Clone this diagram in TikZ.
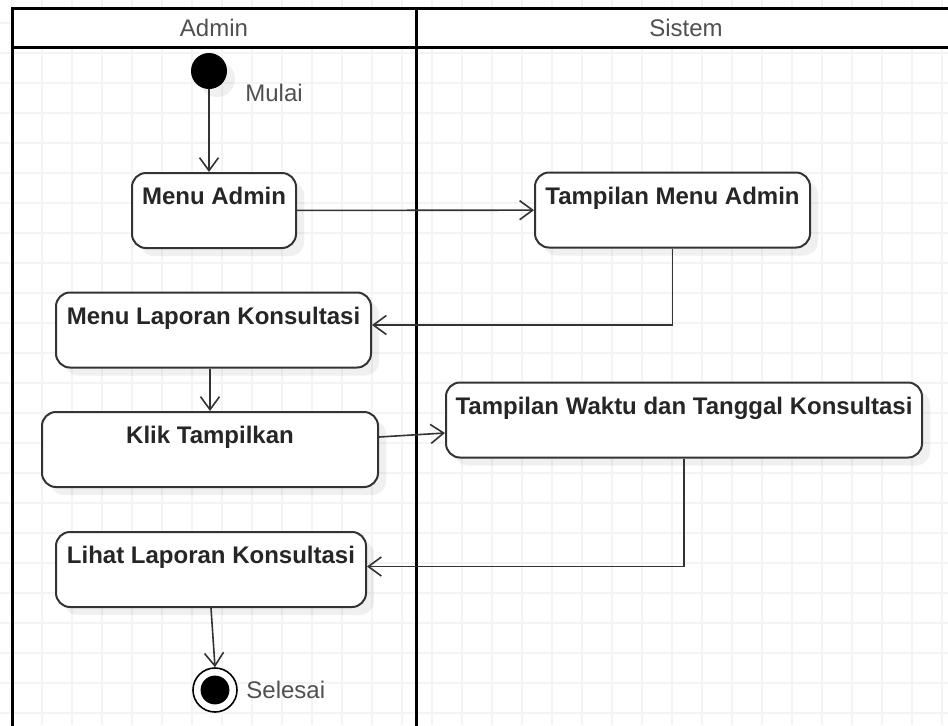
\documentclass[tikz,border=0pt]{standalone}
\usepackage{fontspec}
\setmainfont{Liberation Sans}
\usetikzlibrary{arrows.meta,shadows}

\definecolor{gridgray}{HTML}{F4F4F4}
\definecolor{edgegray}{HTML}{333333}
\definecolor{labelgray}{HTML}{505050}

\tikzset{
  action/.style={draw=edgegray, line width=1pt, fill=white, rounded corners=7pt,
    inner xsep=0pt, inner ysep=0pt, text height=15.8pt, text depth=21.7pt,
    font=\fontsize{12}{14}\selectfont\bfseries, text=black!85,
    drop shadow={shadow xshift=4pt, shadow yshift=-4pt, fill=black, opacity=0.06}},
  initial/.style={circle, fill=black, minimum size=18pt, inner sep=0pt,
    drop shadow={shadow xshift=4pt, shadow yshift=-4pt, fill=black, opacity=0.06}},
  final/.style={circle, draw=black, line width=0.8pt, fill=white, minimum size=22pt, inner sep=0pt,
    path picture={\fill[black] (path picture bounding box.center) circle (7.2pt);}},
  flow/.style={draw=edgegray, line width=0.8pt, -{Straight Barb[length=6.5pt,width=9.5pt]}},
  caption/.style={font=\fontsize{12}{14}\selectfont, text=labelgray, inner sep=0pt},
  pool/.style={black, line width=1.5pt},
  gridline/.style={gridgray, line width=0.8pt},
}

\begin{document}
\begin{tikzpicture}[x=0.5pt,y=-0.5pt]
  \pgfmathsetmacro\poolL{12}     % left edge of the pool
  \pgfmathsetmacro\poolR{956}    % right edge (just off the page)
  \pgfmathsetmacro\poolT{8}
  \pgfmathsetmacro\headB{47}     % bottom of the header row
  \pgfmathsetmacro\laneX{416}    % Admin | Sistem divider

  \useasboundingbox (0,0) rectangle (948,725);
  \clip (0,0) rectangle (948,725);

% background grid
  \fill[white] (0,0) rectangle (948,725);
  \foreach \gx in {12,42,...,942} \draw[gridline] (\gx,0) -- (\gx,725);
  \foreach \gy in {23,53,...,713} \draw[gridline] (0,\gy) -- (948,\gy);

% swimlanes
  \draw[pool,fill=white] (\poolL,\poolT) rectangle (\poolR,\headB);
  \draw[pool] (\poolL,\headB) -- (\poolL,735);
  \draw[pool] (\laneX,\poolT) -- (\laneX,735);
  \node[caption] (admin)  at (214,28) {Admin};
  \node[caption] (sistem) at (686,28) {Sistem};

% admin lane
  \node[initial] (start) at (209,71) {};
  \node[caption,anchor=west] (mulai) at (245,93) {Mulai};
  \node[action,minimum width=82pt]    (menu)    at (214,210.5) {Menu Admin};
  \node[action,minimum width=157.5pt] (laporan) at (213.5,330) {Menu Laporan Konsultasi};
  \node[action,minimum width=168pt]   (klik)    at (210,449.5) {Klik Tampilkan};
  \node[action,minimum width=155pt]   (lihat)   at (211,569.5) {Lihat Laporan Konsultasi};
  \node[final] (end) at (215,690) {};
  \node[caption,anchor=west] (selesai) at (246,690) {Selesai};

% sistem lane
  \node[action,minimum width=137.5pt] (tampil) at (672.5,210) {Tampilan Menu Admin};
  \node[action,minimum width=238pt]   (waktu)  at (684,420) {Tampilan Waktu dan Tanggal Konsultasi};

% control flow
  \draw[flow] (start) -- (start |- menu.north);
  \draw[flow] (menu) -- (tampil);
  \draw[flow] (tampil.south) |- ([yshift=2.5pt]laporan.east);
  \draw[flow] (klik.north |- laporan.south) -- (klik.north);
  \draw[flow] ([yshift=6.25pt]klik.east) -- ([yshift=-6.5pt]waktu.west);
  \draw[flow] (waktu.south) |- ([yshift=1.5pt]lihat.east);
  \draw[flow] (lihat.south) -- (end.north);

\end{tikzpicture}
\end{document}
